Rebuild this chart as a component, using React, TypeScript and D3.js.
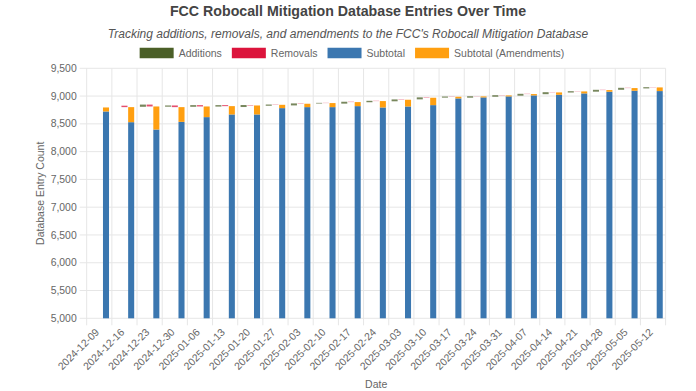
import React from "react";
import * as d3 from "d3";

const dates = [
  "2024-12-09", "2024-12-16", "2024-12-23", "2024-12-30", "2025-01-06", "2025-01-13",
  "2025-01-20", "2025-01-27", "2025-02-03", "2025-02-10", "2025-02-17", "2025-02-24",
  "2025-03-03", "2025-03-10", "2025-03-17", "2025-03-24", "2025-03-31", "2025-04-07",
  "2025-04-14", "2025-04-21", "2025-04-28", "2025-05-05", "2025-05-12",
];
const subtotal = [
  8723, 8530, 8398, 8536, 8621, 8669, 8669, 8783, 8801, 8801, 8819, 8795,
  8813, 8837, 8958, 8976, 8994, 9012, 9024, 9048, 9078, 9096, 9090,
];
const amendments = [
  72, 271, 415, 265, 192, 150, 162, 60, 61, 73, 73, 115,
  121, 133, 30, 18, 18, 24, 42, 36, 30, 48, 66,
];
const additions = [
  0, 0, 40, 22, 30, 26, 36, 22, 36, 12, 34, 26,
  34, 36, 20, 26, 28, 34, 36, 24, 34, 36, 22,
];
const removals = [
  0, 26, 34, 30, 24, 18, 8, 5, 6, 4, 6, 5,
  6, 7, 4, 3, 4, 5, 4, 4, 5, 5, 4,
];
const yTicks = [5000, 5500, 6000, 6500, 7000, 7500, 8000, 8500, 9000, 9500];

const W = 696;
const H = 391;
const FONT = "'Liberation Sans', Arial, Helvetica, sans-serif";
const C_ADD = "#4b5f27";
const C_REM = "#dc143c";
const C_SUB = "#3b77b0";
const C_AMD = "#ff9f10";
const GRID = "#e6e6e6";
const TEXT = "#666";

const legendItems = [
  { label: "Additions", color: C_ADD },
  { label: "Removals", color: C_REM },
  { label: "Subtotal", color: C_SUB },
  { label: "Subtotal (Amendments)", color: C_AMD },
];

function measure(text: string, font: string): number {
  const c = document.createElement("canvas").getContext("2d");
  if (!c) return text.length * 6;
  c.font = font;
  return c.measureText(text).width;
}

export default function App() {
  const left = 86.7;
  const right = 665.6;
  const top = 68.3;
  const bottom = 318.3;

  const x = d3.scaleBand<string>().domain(dates).range([left, right]).padding(0);
  const bw = x.bandwidth();
  const sub = d3
    .scaleBand<string>()
    .domain(["add", "rem", "sub"])
    .range([bw * 0.1, bw * 0.9])
    .paddingInner(0.1)
    .paddingOuter(0.05);
  const y = d3.scaleLinear().domain([5000, 9500]).range([bottom, top]);
  const fmt = d3.format(",");

  const rows = dates.map((d, i) => {
    const total = subtotal[i] + amendments[i];
    return {
      d,
      sub: subtotal[i],
      total,
      remLo: total,
      remHi: total + removals[i],
      addLo: total + removals[i] - additions[i],
      addHi: total + removals[i],
      add: additions[i],
      rem: removals[i],
    };
  });

  const legendFont = `10.5px ${FONT}`;
  const boxW = 34;
  const boxH = 10.5;
  const gap = 5;
  const itemGap = 10;
  const widths = legendItems.map((it) => boxW + gap + measure(it.label, legendFont));
  const totalW = widths.reduce((a, b) => a + b, 0) + itemGap * (legendItems.length - 1);
  let lx = 352 - totalW / 2;
  const legendPos = widths.map((w) => {
    const p = lx;
    lx += w + itemGap;
    return p;
  });
  const legendY = 53;

  const xTicks = [...dates.map((d) => x(d) as number), right];

  return (
    <svg
      width={W}
      height={H}
      style={{ position: "absolute", left: 0, top: 0, background: "#fff" }}
      fontFamily={FONT}
    >
      <text x={348} y={16} textAnchor="middle" fontSize={14.2} fontWeight="bold" fill="#444">
        FCC Robocall Mitigation Database Entries Over Time
      </text>
      <text x={348} y={37.5} textAnchor="middle" fontSize={12} fontStyle="italic" fill="#555">
        Tracking additions, removals, and amendments to the FCC's Robocall Mitigation Database
      </text>

      {legendItems.map((it, i) => (
        <g key={it.label}>
          <rect x={legendPos[i]} y={legendY - boxH / 2} width={boxW} height={boxH} fill={it.color} />
          <text x={legendPos[i] + boxW + gap} y={legendY} dy="0.35em" fontSize={10.5} fill={TEXT}>
            {it.label}
          </text>
        </g>
      ))}

      {yTicks.map((t) => (
        <line key={"gy" + t} x1={left - 7} x2={right} y1={y(t)} y2={y(t)} stroke={GRID} strokeWidth={1} />
      ))}
      {xTicks.map((xx, i) => (
        <line key={"gx" + i} x1={xx} x2={xx} y1={top} y2={bottom + 7} stroke={GRID} strokeWidth={1} />
      ))}

      {yTicks.map((t) => (
        <text key={"ty" + t} x={left - 10} y={y(t)} dy="0.35em" textAnchor="end" fontSize={10.4} fill={TEXT}>
          {fmt(t)}
        </text>
      ))}

      {dates.map((d) => {
        const cx = (x(d) as number) + bw / 2;
        return (
          <text
            key={"tx" + d}
            transform={`translate(${cx - 2},${bottom + 12}) rotate(-45)`}
            textAnchor="end"
            dy="0.35em"
            fontSize={10.4}
            fill={TEXT}
          >
            {d}
          </text>
        );
      })}

      <text
        transform={`translate(40,${(top + bottom) / 2}) rotate(-90)`}
        textAnchor="middle"
        dy="0.35em"
        fontSize={10.5}
        fill={TEXT}
      >
        Database Entry Count
      </text>
      <text x={(left + right) / 2} y={388} textAnchor="middle" fontSize={10.5} fill={TEXT}>
        Date
      </text>

      {rows.map((r) => {
        const x0 = x(r.d) as number;
        const sw = sub.bandwidth();
        return (
          <g key={"b" + r.d}>
            {r.add > 0 && (
              <rect
                x={x0 + (sub("add") as number)}
                y={y(r.addHi)}
                width={sw}
                height={y(r.addLo) - y(r.addHi)}
                fill={C_ADD}
                fillOpacity={0.75}
              />
            )}
            {r.rem > 0 && (
              <rect
                x={x0 + (sub("rem") as number)}
                y={y(r.remHi)}
                width={sw}
                height={y(r.remLo) - y(r.remHi)}
                fill={C_REM}
                fillOpacity={0.75}
              />
            )}
            <rect
              x={x0 + (sub("sub") as number)}
              y={y(r.sub)}
              width={sw}
              height={y(5000) - y(r.sub)}
              fill={C_SUB}
            />
            <rect
              x={x0 + (sub("sub") as number)}
              y={y(r.total)}
              width={sw}
              height={y(r.sub) - y(r.total)}
              fill={C_AMD}
            />
          </g>
        );
      })}
    </svg>
  );
}
